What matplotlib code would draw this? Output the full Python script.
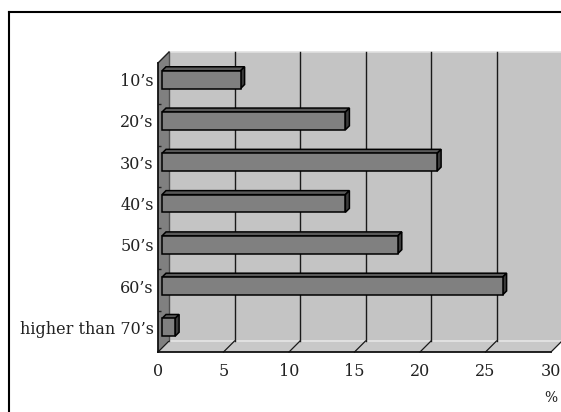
import matplotlib.pyplot as plt
from matplotlib.patches import Polygon, Rectangle
from matplotlib.lines import Line2D

# data (top to bottom as shown)
categories = ["10’s", "20’s", "30’s", "40’s", "50’s", "60’s", "higher than 70’s"]
percent = [6, 14, 21, 14, 18, 26, 1]
x_ticks = [0, 5, 10, 15, 20, 25, 30]

W, H = 561, 412
fig = plt.figure(figsize=(W / 100, H / 100), dpi=100)
fig.patch.set_facecolor("white")

# front plane of the pseudo-3d plot, in pixels
x0, x1 = 158, 551
y_top, y_bot = 63, 352
ax = fig.add_axes([x0 / W, 1 - y_bot / H, (x1 - x0) / W, (y_bot - y_top) / H])
n = len(categories)
ax.set_xlim(0, 30)
ax.set_ylim(0, n)
ax.set_facecolor("none")

px_x = 30 / (x1 - x0)        # data units per pixel
px_y = n / (y_bot - y_top)
wall = 11                    # wall depth in px
dxw, dyw = wall * px_x, wall * px_y

# back wall, left wall, floor
ax.add_patch(Rectangle((dxw, dyw), 30, n, facecolor="#c4c4c4",
                       edgecolor="none", clip_on=False, zorder=0))
ax.add_patch(Polygon([(0, 0), (dxw, dyw), (dxw, n + dyw), (0, n)],
                     facecolor="#808080", edgecolor="none",
                     clip_on=False, zorder=1))
ax.add_patch(Polygon([(0, 0), (30, 0), (30 + dxw, dyw), (dxw, dyw)],
                     facecolor="#c8c8c8", edgecolor="none",
                     clip_on=False, zorder=1))
ax.plot([dxw, 30 + dxw], [dyw, dyw], color="#e6e6e6", lw=1.2,
        clip_on=False, zorder=2)
ax.plot([dxw, 30 + dxw], [n + dyw, n + dyw], color="#e0e0e0", lw=1.2,
        clip_on=False, zorder=2)
ax.plot([dxw, dxw], [dyw, n + dyw], color="#505050", lw=1,
        clip_on=False, zorder=2)
ax.plot([0, dxw], [n, n + dyw], color="#202020", lw=1,
        clip_on=False, zorder=3)

# gridlines on back wall and floor
for t in x_ticks:
    if t > 0:
        ax.plot([t + dxw, t + dxw], [dyw, n + dyw], color="#1a1a1a",
                lw=1, clip_on=False, zorder=2)
    ax.plot([t, t + dxw], [0, dyw], color="#1a1a1a", lw=0.9,
            clip_on=False, zorder=2)

# bars
bf, bb = 4, 8                # bar front / back depth in px
dxf, dyf = bf * px_x, bf * px_y
dxb, dyb = bb * px_x, bb * px_y
bh = 0.43
ypos = [n - 0.5 - i for i in range(n)]
ax.barh([y + dyf for y in ypos], percent, height=bh, left=dxf,
        color="#808080", edgecolor="black", linewidth=1.1, zorder=5)
for y, v in zip(ypos, percent):
    yt = y + dyf + bh / 2
    yb = y + dyf - bh / 2
    top = [(dxf, yt), (v + dxf, yt), (v + dxb, yt - dyf + dyb),
           (dxb, yt - dyf + dyb)]
    side = [(v + dxf, yb), (v + dxb, yb - dyf + dyb),
            (v + dxb, yt - dyf + dyb), (v + dxf, yt)]
    ax.add_patch(Polygon(top, facecolor="#595959", edgecolor="black",
                         lw=1.1, clip_on=False, zorder=4))
    ax.add_patch(Polygon(side, facecolor="#3c3c3c", edgecolor="black",
                         lw=1.1, clip_on=False, zorder=4))

# axes
for s in ["top", "right"]:
    ax.spines[s].set_visible(False)
for s in ["left", "bottom"]:
    ax.spines[s].set_color("#111111")
    ax.spines[s].set_linewidth(1.3)
    ax.spines[s].set_zorder(3)

font = dict(family="DejaVu Serif", size=11.5)
ax.set_xticks(x_ticks)
ax.set_xticklabels([str(t) for t in x_ticks], fontdict=font, color="#222222")
ax.tick_params(axis="x", length=0, pad=8)
ax.set_yticks([y + dyf for y in ypos])
ax.set_yticklabels(categories, fontdict=font, color="#222222")
ax.tick_params(axis="y", length=0, pad=3)
ax.set_yticks(range(1, n), minor=True)
ax.tick_params(axis="y", which="minor", direction="in", length=2.5,
               width=1, color="#222222")

fig.text(551 / W, 1 - 398 / H, "%", ha="center", va="center",
         fontsize=10, family="DejaVu Serif", color="#222222")

# outer chart frame
fig.add_artist(Line2D([9 / W, 9 / W], [0, 1 - 12 / H], color="black", lw=1.5))
fig.add_artist(Line2D([9 / W, 1], [1 - 12 / H, 1 - 12 / H], color="black", lw=1.5))

fig.savefig("out.png", dpi=100)
